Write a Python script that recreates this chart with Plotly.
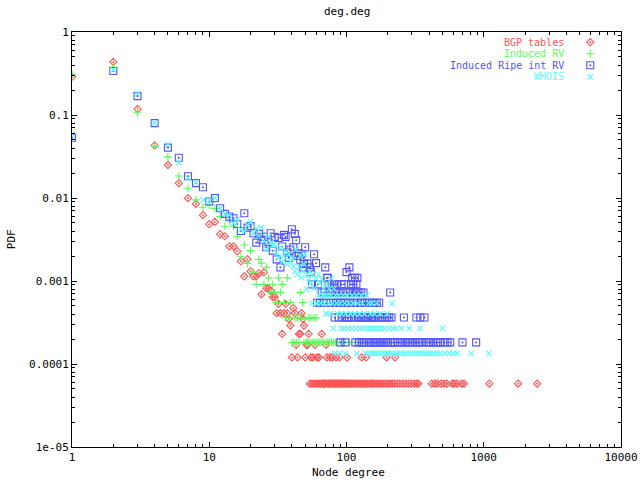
import plotly.graph_objects as go

# ---------------- data ----------------
# BGP tables
bgp_deg = [1, 2, 3, 4, 5, 6, 7, 8, 9, 10, 11, 12, 13, 14, 15, 16, 17, 18, 19, 20,
           21, 22, 23, 24, 25, 26, 27, 28, 29, 30, 31, 32, 33, 34, 35, 36, 37, 38, 39, 40,
           41, 42, 43, 44, 45, 46, 47, 48, 49, 50, 51, 52, 53, 55, 57, 59, 61, 63, 66, 71,
           72, 76, 79, 84, 89, 101, 129, 139, 196, 226]
bgp_pdf = [0.289, 0.435, 0.118, 0.043, 0.0249, 0.0151, 0.00996, 0.00849, 0.00621, 0.00483,
           0.00515, 0.00366, 0.00346, 0.00262, 0.00262, 0.00228, 0.00173, 0.00114, 0.00183, 0.00131,
           0.00114, 0.00114, 0.00124, 0.00069, 0.00127, 0.00082, 0.00082, 0.00076, 0.00064, 0.00064,
           0.00041, 0.00053, 0.00041, 0.00023, 0.00041, 0.00053, 0.00041, 0.00035, 0.00029, 0.00012,
           0.00047, 0.00041, 0.00017, 0.00012, 0.00023, 0.00023, 0.00041, 0.00035, 0.00029, 0.00012,
           0.00017, 0.00017, 0.00023, 0.00012, 0.00012, 0.00017, 0.00012, 0.00012, 0.00023, 0.00017,
           0.00012, 0.00012, 0.00012, 0.00012, 0.00012, 0.00012, 0.00012, 0.00012, 0.00012, 0.00012]
bgp_low_level = 5.8e-5
bgp_low_deg = [54, 56, 58, 60, 62, 64, 65, 67, 68, 69, 70, 73, 74, 75, 77, 78, 80, 81, 82, 83,
               85, 86, 87, 88, 90, 92, 94, 95, 97, 99, 100, 103, 105, 107, 110, 112, 115, 118, 121,
               124, 127, 131, 134, 137, 142, 146, 150, 155, 160, 166, 172, 178, 185, 192, 200, 208,
               215, 224, 235, 245, 258, 270, 283, 297, 312, 325, 334, 418, 440, 460, 490, 515, 540,
               590, 610, 640, 690, 718, 1100, 1780, 2450]

# Induced RV
irv_deg = [1, 2, 3, 4, 5, 6, 7, 8, 9, 10, 11, 12, 13, 14, 15, 16, 17, 18, 19, 20,
           21, 22, 23, 24, 25, 26, 27, 28, 29, 30, 31, 32, 33, 34, 35, 36, 37, 38, 39, 40,
           42, 44, 46, 47, 48, 50, 52, 53, 55, 56, 58, 60, 62]
irv_pdf = [0.311, 0.378, 0.108, 0.042, 0.0313, 0.0184, 0.0131, 0.0095, 0.00774, 0.0082,
           0.0075, 0.00597, 0.00457, 0.0053, 0.00457, 0.00346, 0.00196, 0.00272, 0.00163, 0.00232,
           0.00128, 0.00091, 0.00182, 0.00164, 0.00091, 0.00146, 0.00109, 0.00073, 0.00091, 0.00073,
           0.00055, 0.00109, 0.00073, 0.00091, 0.00055, 0.00036, 0.00109, 0.00036, 0.00055, 0.00018,
           0.00036, 0.00036, 0.00073, 0.00036, 0.00055, 0.00036, 0.00018, 0.00036, 0.00036, 0.00018,
           0.00036, 0.00036, 0.00018]
irv_low_level = 1.82e-4
irv_low_deg = [41, 43, 45, 49, 51, 54, 57, 59, 61, 64, 66, 68, 71, 73, 75, 78, 80, 83, 86, 90,
               97, 105, 119, 140, 175, 308, 362]

# Induced Ripe int RV
rip_deg = [1, 2, 3, 4, 5, 6, 7, 8, 9, 10, 11, 12, 13, 14, 15, 16, 17, 18, 19, 20,
           21, 22, 23, 24, 25, 26, 27, 28, 29, 30, 31, 32, 33, 34, 35, 36, 37, 38, 39, 40,
           41, 42, 43, 44, 45, 46, 47, 48, 49, 50, 52, 54, 55, 58, 60, 70, 100, 105]
rip_pdf = [0.0531, 0.339, 0.169, 0.0798, 0.0405, 0.0305, 0.0183, 0.0151, 0.0135, 0.00906,
           0.0100, 0.00753, 0.00643, 0.00597, 0.0057, 0.00487, 0.0040, 0.00656, 0.0044, 0.0046,
           0.00376, 0.0029, 0.0037, 0.00315, 0.0034, 0.00255, 0.00294, 0.00376, 0.00232, 0.0034,
           0.00182, 0.0033, 0.00146, 0.0026, 0.0036, 0.0034, 0.0022, 0.0019, 0.0024, 0.0042,
           0.00255, 0.0037, 0.0031, 0.0020, 0.00216, 0.0018, 0.0021, 0.00146, 0.0016, 0.00255,
           0.00163, 0.00146, 0.00128, 0.0021, 0.00164, 0.00146, 0.00128, 0.00146]
rip_c6 = [72, 73, 110, 115, 120]
rip_c5 = [56, 62, 74, 78, 81, 85, 92, 96, 108, 112, 118]
rip_c4 = [66, 69, 76, 79, 83, 86, 89, 94, 102, 106, 111, 117, 122, 128, 133, 208]
rip_c3 = [61, 64, 67, 71, 77, 80, 84, 87, 91, 95, 99, 103, 107, 113, 119, 126, 130, 136,
          142, 148, 155, 160, 166, 173]
rip_c2 = [82, 88, 93, 97, 101, 104, 109, 114, 121, 124, 127, 131, 135, 139, 144, 150, 153,
          158, 163, 170, 177, 182, 190, 197, 205, 213, 262, 323, 345, 370]
rip_c1 = [90, 98, 116, 123, 129, 134, 140, 146, 152, 157, 162, 168, 175, 180, 186, 193, 200,
          210, 218, 225, 235, 245, 255, 268, 280, 292, 305, 318, 330, 340, 355, 380, 395, 410,
          430, 450, 465, 480, 520, 545, 570, 700, 880]
rip_levels = [1.09e-3, 9.1e-4, 7.28e-4, 5.46e-4, 3.64e-4, 1.82e-4]

# WHOIS
who_deg = [1, 2, 3, 4, 5, 6, 7, 8, 9, 10, 11, 12, 13, 14, 15, 16, 17, 18, 19, 20,
           21, 22, 23, 24, 25, 26, 27, 28, 29, 30, 31, 32, 33, 34, 35, 36, 37, 38, 39, 40,
           41, 42, 43, 44, 45, 46, 47, 48, 49, 50, 51, 52, 53, 54, 55, 57, 58, 60, 62, 64,
           66, 68, 70, 72, 75, 78, 81]
who_pdf = [0.0577, 0.35, 0.180, 0.080, 0.0433, 0.0267, 0.0175, 0.0154, 0.0095, 0.0093,
           0.0100, 0.0075, 0.0065, 0.0062, 0.0050, 0.0055, 0.0042, 0.0040, 0.0047, 0.0052,
           0.0038, 0.0043, 0.0035, 0.0044, 0.0030, 0.0024, 0.0035, 0.0029, 0.0027, 0.0027,
           0.0022, 0.0019, 0.0025, 0.0017, 0.0020, 0.0023, 0.0016, 0.0021, 0.0017, 0.0019,
           0.0015, 0.0013, 0.0024, 0.0012, 0.0015, 0.0020, 0.0011, 0.0013, 0.0016, 0.0021,
           0.0008, 0.0012, 0.00107, 0.0013, 0.00094, 0.0012, 0.00081, 0.00107, 0.0012, 0.00094,
           0.00107, 0.00081, 0.00067, 0.00094, 0.00081, 0.00107, 0.00081]
who_c5 = [63, 67, 73, 77, 83, 88, 95, 101, 110, 118, 128, 140]
who_c4 = [56, 61, 65, 69, 74, 79, 85, 90, 97, 104, 112, 120, 130, 145, 153, 166, 215]
who_c3 = [71, 76, 86, 92, 99, 107, 115, 124, 135, 150, 160, 176, 198]
who_c2 = [80, 91, 96, 103, 109, 117, 126, 133, 142, 148, 156, 163, 171, 180, 190, 205,
          218, 230, 252, 286, 344, 500]
who_c1 = [82, 89, 98, 119, 138, 146, 153, 159, 167, 175, 184, 194, 201, 210, 222, 234, 246,
          260, 272, 290, 305, 322, 338, 355, 372, 390, 410, 432, 456, 480, 520, 560, 600, 640,
          810, 1090]
who_levels = [6.71e-4, 5.37e-4, 4.03e-4, 2.68e-4, 1.34e-4]

series_names = ["BGP tables", "Induced RV", "Induced Ripe int RV", "WHOIS"]
x_tick_vals = [1, 10, 100, 1000, 10000]
x_tick_text = ["1", "10", "100", "1000", "10000"]
y_tick_vals = [1, 0.1, 0.01, 0.001, 0.0001, 0.00001]
y_tick_text = ["1", "0.1", "0.01", "0.001", "0.0001", "1e-05"]

# ---------------- assemble ----------------
def with_level(deg, pdf, groups):
    d = list(deg)
    p = list(pdf)
    for lvl, lst in groups:
        d += lst
        p += [lvl] * len(lst)
    return d, p

bx, by = with_level(bgp_deg, bgp_pdf, [(bgp_low_level, bgp_low_deg)])
gx, gy = with_level(irv_deg, irv_pdf, [(irv_low_level, irv_low_deg)])
rx, ry = with_level(rip_deg, rip_pdf, list(zip(rip_levels, [rip_c6, rip_c5, rip_c4, rip_c3, rip_c2, rip_c1])))
wx, wy = with_level(who_deg, who_pdf, list(zip(who_levels, [who_c5, who_c4, who_c3, who_c2, who_c1])))

RED = "#ff5555"
GREEN = "#55ff55"
BLUE = "#5555ff"
CYAN = "#55ffff"
colors = [RED, GREEN, BLUE, CYAN]
symbols = ["diamond-open-dot", "cross-thin", "square-open-dot", "x-thin"]
sizes = [5.5, 5.5, 7, 5.5]

fig = go.Figure()
for (xs, ys), name, c, s, sz in zip([(bx, by), (gx, gy), (rx, ry), (wx, wy)],
                                    series_names, colors, symbols, sizes):
    fig.add_trace(go.Scatter(
        x=xs, y=ys, mode="markers", name=name,
        marker=dict(symbol=s, size=sz, color=c, line=dict(color=c, width=1.1)),
        hoverinfo="skip"))

# legend keys (gnuplot style: text, then symbol on the right)
leg_px = [42.5, 54.0, 65.5, 77.0]
leg_y = [(446.7 - p) / 414.4 for p in leg_px]
for name, c, s, sz, yy in zip(series_names, colors, symbols, sizes, leg_y):
    fig.add_trace(go.Scatter(
        x=[0.944], y=[yy], xaxis="x2", yaxis="y2", mode="markers",
        marker=dict(symbol=s, size=sz, color=c, line=dict(color=c, width=1.1)),
        hoverinfo="skip", showlegend=False))
    fig.add_annotation(text=name, xref="paper", yref="paper", x=0.8997, y=yy,
                       xanchor="right", yanchor="middle", showarrow=False,
                       font=dict(color=c, size=10, family="DejaVu Sans Mono"))

minor_x = [m * 10 ** e for e in range(0, 4) for m in range(2, 10)]
minor_y = [m * 10.0 ** e for e in range(-5, 0) for m in range(2, 10)]

axis_common = dict(showline=True, linecolor="black", linewidth=1, mirror="ticks",
                   ticks="inside", ticklen=5, tickcolor="black", tickwidth=1,
                   showgrid=False, zeroline=False, automargin=False,
                   tickfont=dict(family="DejaVu Sans Mono", size=11, color="black"))

fig.update_layout(
    width=640, height=480, autosize=False,
    margin=dict(l=72, r=19, t=32, b=33),
    paper_bgcolor="white", plot_bgcolor="white",
    showlegend=False,
    font=dict(family="DejaVu Sans Mono", size=11, color="black"),
    xaxis=dict(type="log", range=[0, 4], tickvals=x_tick_vals, ticktext=x_tick_text,
               minor=dict(tickvals=minor_x, ticks="inside", ticklen=3, tickcolor="black", showgrid=False),
               **axis_common),
    yaxis=dict(type="log", range=[-5, 0], tickvals=y_tick_vals, ticktext=y_tick_text,
               minor=dict(tickvals=minor_y, ticks="inside", ticklen=3, tickcolor="black", showgrid=False),
               **axis_common),
    xaxis2=dict(overlaying="x", range=[0, 1], visible=False, anchor="y2", automargin=False),
    yaxis2=dict(overlaying="y", range=[0, 1], visible=False, anchor="x2", automargin=False),
)

fig.add_annotation(text="deg.deg", xref="paper", yref="paper", x=0.5, y=(446.7 - 12) / 414.4,
                   xanchor="center", yanchor="middle", showarrow=False)
fig.add_annotation(text="Node degree", xref="paper", yref="paper", x=0.503, y=(446.7 - 472) / 414.4,
                   xanchor="center", yanchor="middle", showarrow=False)
fig.add_annotation(text="PDF", xref="paper", yref="paper", x=(12 - 72.3) / 548.4, y=0.5,
                   xanchor="center", yanchor="middle", textangle=-90, showarrow=False)

fig.write_html("out.html",
               config={"displayModeBar": False, "responsive": False},
               default_width="640px", default_height="480px",
               post_script="document.body.style.margin='0px';document.body.style.overflow='hidden';")
